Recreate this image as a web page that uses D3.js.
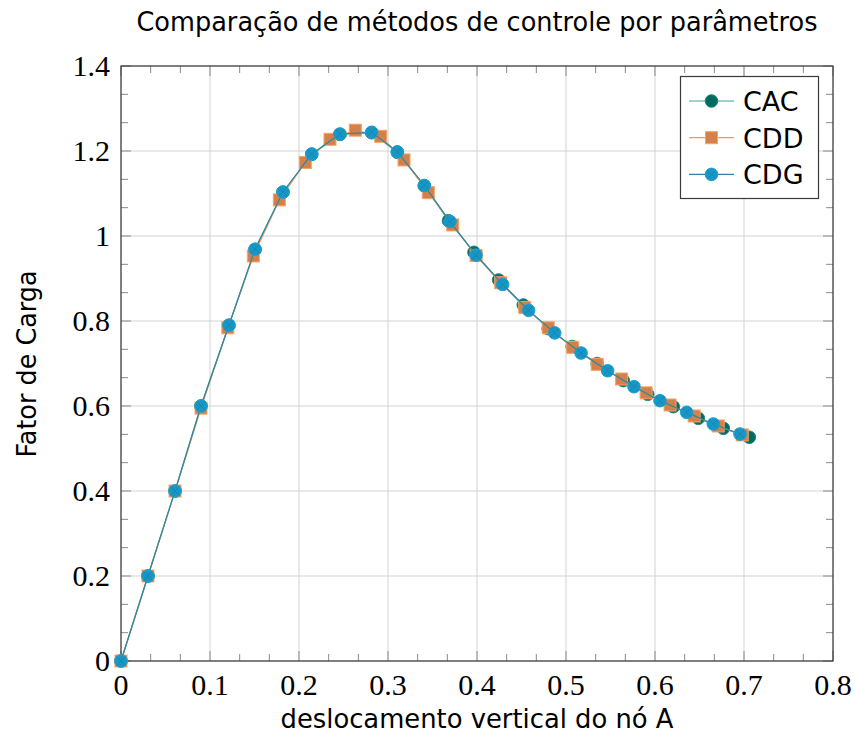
<!DOCTYPE html>
<html>
<head>
<meta charset="utf-8">
<script src="https://cdn.jsdelivr.net/npm/d3@7"></script>
<style>
  body { margin: 0; background: #fff; }
</style>
</head>
<body>
<div id="chart"></div>
<script>
var width = 855
var height = 738
var padding = { top: 66, right: 22, bottom: 77, left: 121 };

// series names and values (deslocamento, fator de carga)
var seriesNames = ['CAC', 'CDD', 'CDG'];

var cacX = [0, 0.0303, 0.0607, 0.0899, 0.1213, 0.1506, 0.182, 0.2143, 0.246, 0.2817, 0.3105, 0.3408, 0.368,
            0.3966, 0.4243, 0.452, 0.48, 0.507, 0.535, 0.5644, 0.5918, 0.6206, 0.6487, 0.6768, 0.706];
var cacY = [0, 0.2, 0.4, 0.6, 0.79, 0.968, 1.103, 1.192, 1.239, 1.243, 1.197, 1.118, 1.036,
            0.9616, 0.8965, 0.8376, 0.782, 0.740, 0.700, 0.6596, 0.6275, 0.5984, 0.571, 0.5475, 0.5265];

var cddX = [0, 0.0303, 0.0607, 0.0899, 0.120, 0.1487, 0.1779, 0.2071, 0.2348, 0.2633, 0.2918, 0.318, 0.3453,
            0.3727, 0.399, 0.4266, 0.4536, 0.480, 0.5075, 0.535, 0.5625, 0.590, 0.6169, 0.644, 0.671, 0.698];
var cddY = [0, 0.2, 0.4, 0.595, 0.784, 0.953, 1.085, 1.173, 1.2275, 1.249, 1.2346, 1.179, 1.102,
            1.026, 0.954, 0.89, 0.832, 0.784, 0.738, 0.698, 0.6635, 0.631, 0.6024, 0.5765, 0.553, 0.532];

var cdgX = [0, 0.0303, 0.0607, 0.0899, 0.1213, 0.1506, 0.182, 0.2143, 0.246, 0.2817, 0.3105, 0.3408,
            0.3697, 0.3989, 0.4288, 0.458, 0.4873, 0.5169, 0.5468, 0.5764, 0.6056, 0.6356, 0.6655, 0.6955];
var cdgY = [0, 0.2, 0.4, 0.6, 0.79, 0.969, 1.1035, 1.193, 1.24, 1.244, 1.198, 1.119,
            1.034, 0.955, 0.886, 0.825, 0.772, 0.7247, 0.683, 0.6454, 0.6125, 0.585, 0.5576, 0.534];

var xTickLabels = ['0', '0.1', '0.2', '0.3', '0.4', '0.5', '0.6', '0.7', '0.8'];
var yTickLabels = ['0', '0.2', '0.4', '0.6', '0.8', '1', '1.2', '1.4'];

var svg = d3.select('#chart')
    .append('svg')
    .attr('width', width)
    .attr('height', height);

var chartWidth = width - padding.left - padding.right;
var chartHeight = height - padding.top - padding.bottom;

var xScale = d3.scaleLinear().domain([0, 0.8]).range([padding.left, padding.left + chartWidth]);
var yScale = d3.scaleLinear().domain([0, 1.4]).range([padding.top + chartHeight, padding.top]);

var xMajor = xTickLabels.map(Number);
var yMajor = yTickLabels.map(Number);
var xMinor = d3.range(0, 24).map(function(i) { return i * 0.1 / 3; }).filter(function(d, i) { return i % 3 != 0; });
var yMinor = d3.range(0, 21).map(function(i) { return i * 0.2 / 3; }).filter(function(d, i) { return i % 3 != 0; });

var x0 = xScale(0), x1 = xScale(0.8), y0 = yScale(0), y1 = yScale(1.4);

// grid
var grid = svg.append('g').attr('stroke', '#d3d3d3').attr('stroke-width', 1);
xMajor.forEach(function(d) {
    grid.append('line').attr('x1', xScale(d)).attr('x2', xScale(d)).attr('y1', y0).attr('y2', y1);
});
yMajor.forEach(function(d) {
    grid.append('line').attr('x1', x0).attr('x2', x1).attr('y1', yScale(d)).attr('y2', yScale(d));
});

// ticks inside, all four sides
var ticks = svg.append('g').attr('stroke', '#8a8a8a').attr('stroke-width', 1);
function tickX(d, len) {
    ticks.append('line').attr('x1', xScale(d)).attr('x2', xScale(d)).attr('y1', y0).attr('y2', y0 - len);
    ticks.append('line').attr('x1', xScale(d)).attr('x2', xScale(d)).attr('y1', y1).attr('y2', y1 + len);
}
function tickY(d, len) {
    ticks.append('line').attr('x1', x0).attr('x2', x0 + len).attr('y1', yScale(d)).attr('y2', yScale(d));
    ticks.append('line').attr('x1', x1).attr('x2', x1 - len).attr('y1', yScale(d)).attr('y2', yScale(d));
}
xMinor.forEach(function(d) { tickX(d, 7); });
yMinor.forEach(function(d) { tickY(d, 7); });
xMajor.forEach(function(d) { tickX(d, 10); });
yMajor.forEach(function(d) { tickY(d, 10); });

// frame
svg.append('rect')
    .attr('x', x0).attr('y', y1)
    .attr('width', x1 - x0).attr('height', y0 - y1)
    .attr('fill', 'none').attr('stroke', '#3a3a3a').attr('stroke-width', 1.2);

// tick labels
var serif = '"Liberation Serif", "DejaVu Serif", serif';
svg.selectAll('.xlab').data(xTickLabels).enter().append('text')
    .attr('x', function(d) { return xScale(+d); })
    .attr('y', y0 + 34)
    .attr('text-anchor', 'middle')
    .style('font-family', serif).style('font-size', '30px')
    .text(function(d) { return d; });
svg.selectAll('.ylab').data(yTickLabels).enter().append('text')
    .attr('x', x0 - 11)
    .attr('y', function(d) { return yScale(+d) + 10; })
    .attr('text-anchor', 'end')
    .style('font-family', serif).style('font-size', '30px')
    .text(function(d) { return d; });

// titles
var sans = '"DejaVu Sans", "Liberation Sans", sans-serif';
svg.append('text')
    .attr('x', (x0 + x1) / 2).attr('y', 31)
    .attr('text-anchor', 'middle')
    .attr('textLength', 681).attr('lengthAdjust', 'spacingAndGlyphs')
    .style('font-family', sans).style('font-size', '27px')
    .text('Comparação de métodos de controle por parâmetros');
svg.append('text')
    .attr('x', (x0 + x1) / 2).attr('y', 728)
    .attr('text-anchor', 'middle')
    .attr('textLength', 393).attr('lengthAdjust', 'spacingAndGlyphs')
    .style('font-family', sans).style('font-size', '27px')
    .text('deslocamento vertical do nó A');
svg.append('text')
    .attr('transform', 'translate(36,364) rotate(-90)')
    .attr('text-anchor', 'middle')
    .attr('textLength', 187).attr('lengthAdjust', 'spacingAndGlyphs')
    .style('font-family', sans).style('font-size', '27px')
    .text('Fator de Carga');

// series
var styles = {
    'CAC': { line: '#3fa69c', fill: '#006b61', stroke: '#1f8a80', shape: 'circle' },
    'CDD': { line: '#ef9a5c', fill: '#d4804a', stroke: '#f5a464', shape: 'square' },
    'CDG': { line: '#2a86a8', fill: '#1797c6', stroke: '#1fa0cf', shape: 'otimes' }
};
var seriesData = {
    'CAC': cacX.map(function(d, i) { return { x: d, y: cacY[i] }; }),
    'CDD': cddX.map(function(d, i) { return { x: d, y: cddY[i] }; }),
    'CDG': cdgX.map(function(d, i) { return { x: d, y: cdgY[i] }; })
};

var line = d3.line()
    .x(function(d) { return xScale(d.x); })
    .y(function(d) { return yScale(d.y); });

function drawMarker(g, shape, st, cx, cy) {
    if (shape === 'square') {
        g.append('rect').attr('x', cx - 6).attr('y', cy - 6).attr('width', 12).attr('height', 12)
            .attr('fill', st.fill).attr('stroke', st.stroke).attr('stroke-width', 1);
    } else {
        g.append('circle').attr('cx', cx).attr('cy', cy).attr('r', 6.3)
            .attr('fill', st.fill).attr('stroke', st.stroke).attr('stroke-width', 1);
        if (shape === 'otimes') {
            var r = 4.3;
            g.append('path')
                .attr('d', 'M' + (cx - r) + ',' + (cy - r) + 'L' + (cx + r) + ',' + (cy + r) +
                           'M' + (cx - r) + ',' + (cy + r) + 'L' + (cx + r) + ',' + (cy - r))
                .attr('stroke', '#1a82ab').attr('stroke-width', 0.8);
        }
    }
}

seriesNames.forEach(function(name) {
    var st = styles[name];
    var g = svg.append('g');
    g.append('path')
        .datum(seriesData[name])
        .attr('d', line)
        .attr('fill', 'none')
        .attr('stroke', st.line)
        .attr('stroke-width', 1.2);
    seriesData[name].forEach(function(d) {
        drawMarker(g, st.shape, st, xScale(d.x), yScale(d.y));
    });
});

// legend
var legend = svg.append('g');
legend.append('rect')
    .attr('x', 680.5).attr('y', 76.5).attr('width', 138).attr('height', 122)
    .attr('fill', '#fff').attr('stroke', '#3a3a3a').attr('stroke-width', 1.2);
seriesNames.forEach(function(name, i) {
    var st = styles[name];
    var ly = 101 + i * 36.7;
    legend.append('line').attr('x1', 689).attr('x2', 734).attr('y1', ly).attr('y2', ly)
        .attr('stroke', st.line).attr('stroke-width', 1.2);
    drawMarker(legend, st.shape, st, 711.5, ly);
    legend.append('text')
        .attr('x', 743).attr('y', ly + 10)
        .style('font-family', sans).style('font-size', '27px')
        .text(name);
});
</script>
</body>
</html>
